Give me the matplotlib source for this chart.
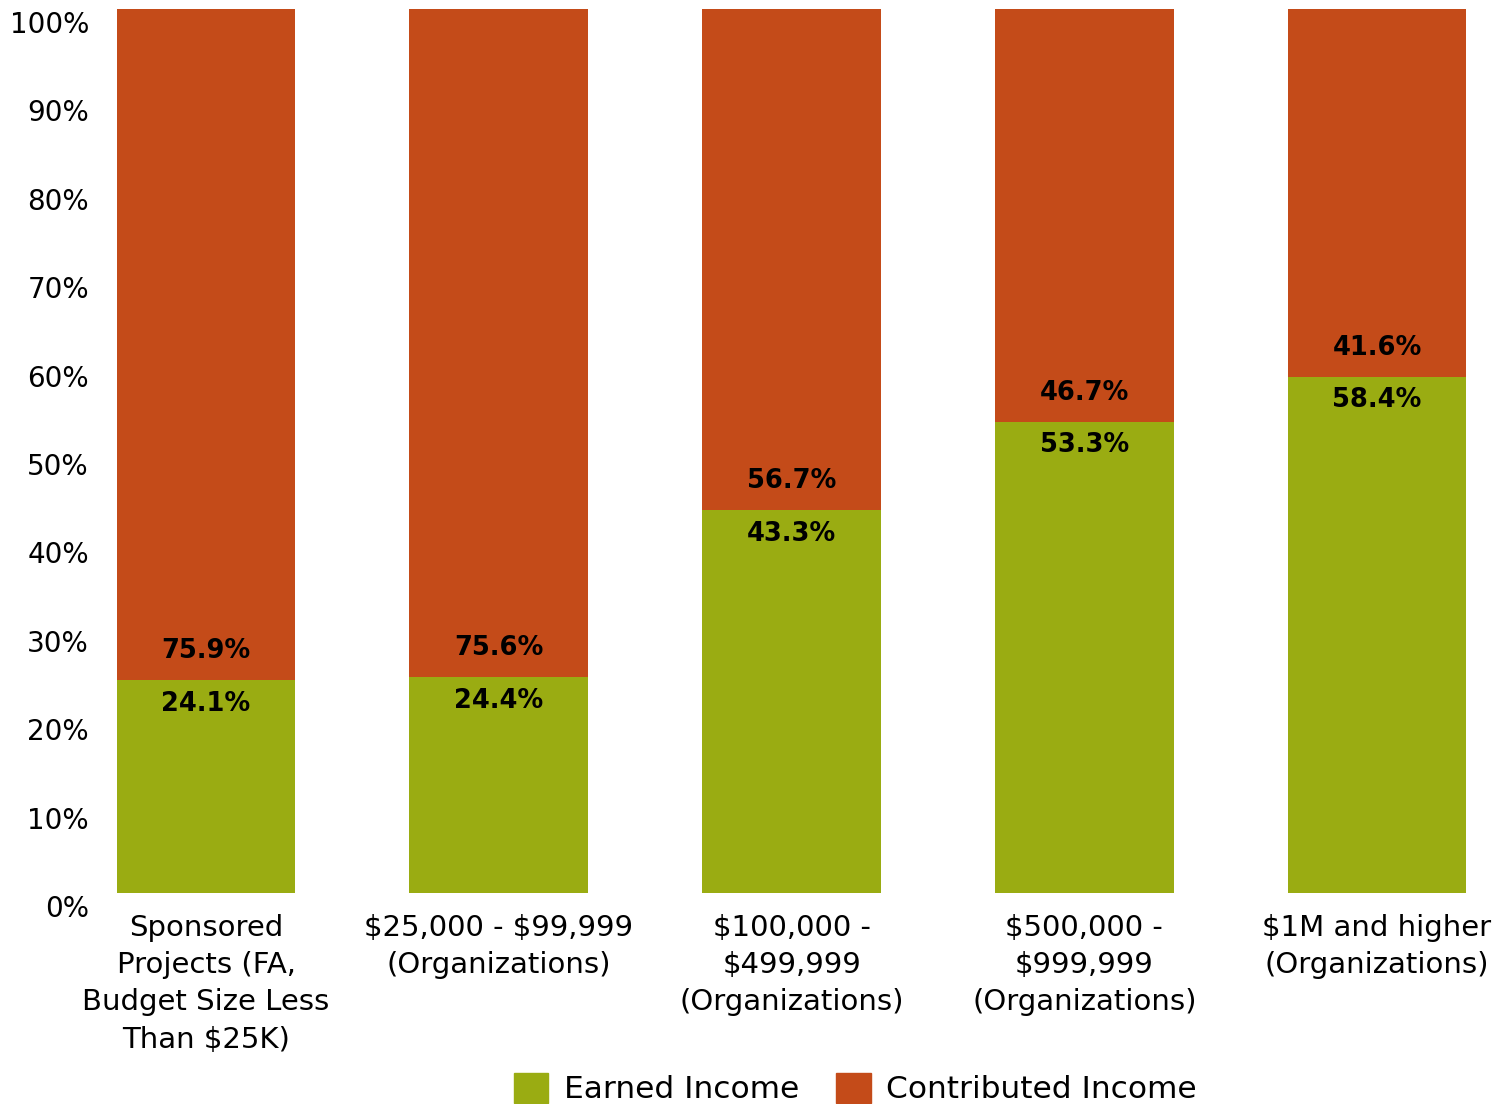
import matplotlib
matplotlib.use("Agg")
import matplotlib.pyplot as plt
import matplotlib.transforms as mtransforms
from matplotlib.patches import Patch

categories = ["Sponsored\nProjects (FA,\nBudget Size Less\nThan $25K)",
              "$25,000 - $99,999\n(Organizations)",
              "$100,000 -\n$499,999\n(Organizations)",
              "$500,000 -\n$999,999\n(Organizations)",
              "$1M and higher\n(Organizations)"]
earned = [24.1, 24.4, 43.3, 53.3, 58.4]
contributed = [75.9, 75.6, 56.7, 46.7, 41.6]
yticks = [0, 10, 20, 30, 40, 50, 60, 70, 80, 90, 100]

c_earned = "#9AAC12"
c_contrib = "#C44B19"

plt.rcParams['font.family'] = ['DejaVu Sans']
plt.rcParams['text.parse_math'] = False

fig = plt.figure(figsize=(15.11, 11.04), dpi=100)
ax = fig.add_axes([0.0662, 0.1911, 0.9298, 0.8007])

x = list(range(len(categories)))
w = 0.61
ax.bar(x, earned, width=w, color=c_earned, edgecolor='none')
ax.bar(x, contributed, width=w, bottom=earned, color=c_contrib, edgecolor='none')

for xi, e, c in zip(x, earned, contributed):
    ax.annotate(f"{c}%", (xi, e), xytext=(0, 21), textcoords='offset points',
                ha='center', va='center', fontsize=18.5, fontweight='bold', color='black')
    ax.annotate(f"{e}%", (xi, e), xytext=(0, -17), textcoords='offset points',
                ha='center', va='center', fontsize=18.5, fontweight='bold', color='black')

ax.set_xlim(-0.362, 4.437)
ax.set_ylim(0, 100)
ax.set_yticks(yticks)
ax.set_yticklabels([f"{t}%" for t in yticks], fontsize=20)
ax.set_xticks(x)
ax.set_xticklabels(categories, fontsize=21, linespacing=1.42, va='top')
ax.tick_params(axis='both', length=0)
ax.tick_params(axis='y', pad=8)
ax.tick_params(axis='x', pad=15)
offset = mtransforms.ScaledTranslation(0, -13/100, fig.dpi_scale_trans)
for lab in ax.get_yticklabels():
    lab.set_transform(lab.get_transform() + offset)
for s in ax.spines.values():
    s.set_visible(False)

handles = [Patch(color=c_earned, label="Earned Income"),
           Patch(color=c_contrib, label="Contributed Income")]
fig.legend(handles=handles, loc='center', bbox_to_anchor=(0.566, 0.014), ncol=2,
           frameon=False, fontsize=22.5, handlelength=1.1, handleheight=1.1,
           columnspacing=1.2, handletextpad=0.5)

fig.savefig("out.png", dpi=100)
